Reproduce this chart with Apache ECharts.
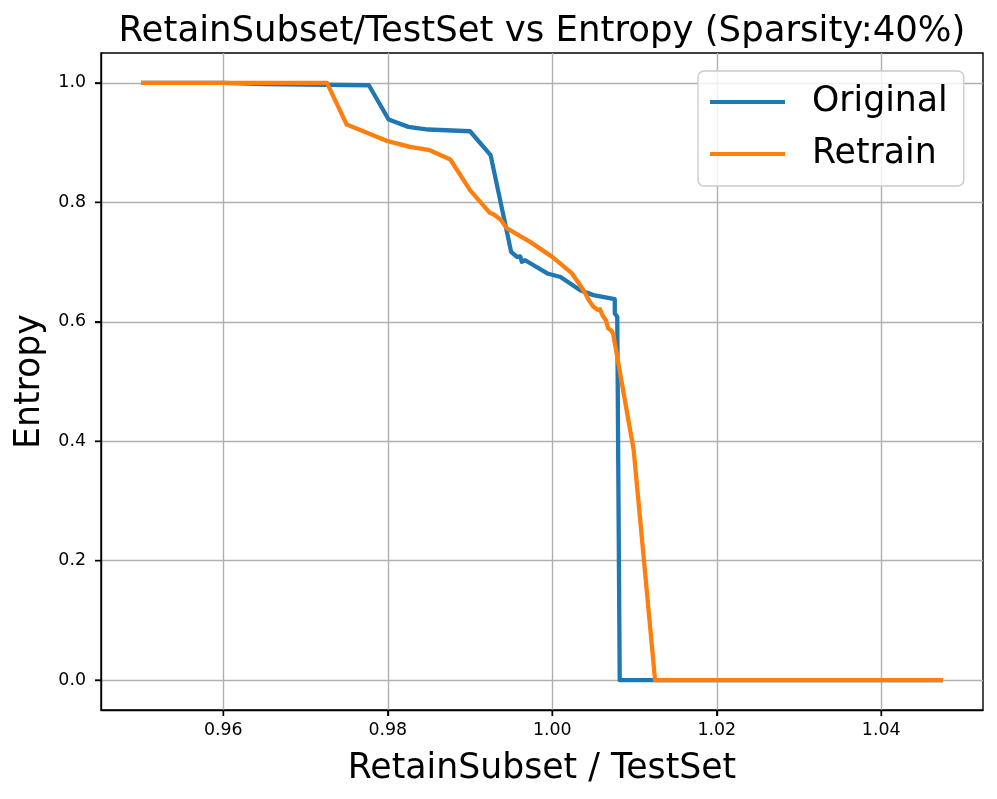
<!DOCTYPE html>
<html>
<head>
<meta charset="utf-8">
<script src="https://cdn.jsdelivr.net/npm/echarts@6/dist/echarts.min.js"></script>
<style>html,body{margin:0;padding:0;background:#fff;}#c{width:997px;height:799px;}</style>
</head>
<body>
<div id="c"></div>
<script>
const titleText = 'RetainSubset/TestSet vs Entropy (Sparsity:40%)';
const xLabel = 'RetainSubset / TestSet';
const yLabel = 'Entropy';
const seriesNames = ['Original', 'Retrain'];
const xTicks = [0.96, 0.98, 1.00, 1.02, 1.04];
const yTicks = [0.0, 0.2, 0.4, 0.6, 0.8, 1.0];

const originalX = [0.95, 0.96, 0.965, 0.9777, 0.9801, 0.9825, 0.9849, 0.990, 0.9925, 0.995, 0.9957, 0.9961, 0.9963, 0.9967, 0.9994, 1.001, 1.0034, 1.005, 1.0076, 1.0076, 1.0079, 1.0082, 1.0475];
const originalY = [1.0, 1.0, 0.998, 0.996, 0.9387, 0.9263, 0.9219, 0.919, 0.879, 0.7171, 0.7087, 0.7095, 0.7004, 0.703, 0.6809, 0.675, 0.6529, 0.6446, 0.6379, 0.6139, 0.6083, 0.0, 0.0];

const retrainX = [0.95, 0.9726, 0.975, 0.980, 0.9827, 0.9851, 0.9876, 0.990, 0.9924, 0.9929, 0.9931, 0.9937, 0.9945, 0.9973, 1.0000, 1.0024, 1.0038, 1.0045, 1.005, 1.0055, 1.0058, 1.0061, 1.0065, 1.0068, 1.0072, 1.0074, 1.0099, 1.0125, 1.0475];
const retrainY = [1.0, 1.0, 0.9302, 0.9024, 0.8929, 0.8873, 0.8717, 0.8204, 0.7824, 0.7795, 0.781, 0.7713, 0.7562, 0.7338, 0.7087, 0.6809, 0.6529, 0.635, 0.625, 0.62, 0.621, 0.611, 0.603, 0.589, 0.585, 0.580, 0.3851, 0.0, 0.0];

const zip = (xs, ys) => xs.map((x, i) => [x, ys[i]]);
const dataMin = 0.95, dataMax = 1.0475;
const pad = (dataMax - dataMin) * 0.05;
const xMin = dataMin - pad, xMax = dataMax + pad;
const yMin = -0.05, yMax = 1.05;

const tickMarks = xTicks.map(v => ['x', v]).concat(yTicks.map(v => ['y', v]));
const tickLen = 6;

const chart = echarts.init(document.getElementById('c'), null, {renderer: 'canvas'});
const font = 'DejaVu Sans';
chart.setOption({
  animation: false,
  backgroundColor: '#ffffff',
  textStyle: {fontFamily: font},
  title: {
    text: titleText,
    left: 537, top: 9, textAlign: 'center',
    textStyle: {fontFamily: font, fontSize: 35.5, fontWeight: 'normal', color: '#000'}
  },
  grid: {left: 101, right: 14, top: 53, bottom: 89, show: true, borderColor: '#000', borderWidth: 1.4, backgroundColor: 'transparent'},
  legend: {
    orient: 'vertical', left: 698, top: 71,
    data: seriesNames,
    icon: 'rect', itemWidth: 75, itemHeight: 4, itemGap: 12,
    padding: [11, 16, 12, 12],
    backgroundColor: 'rgba(255,255,255,0.8)', borderColor: '#cccccc', borderWidth: 1.4, borderRadius: 6,
    textStyle: {fontFamily: font, fontSize: 34.7, color: '#000', padding: [0, 0, 0, 22], lineHeight: 40}
  },
  xAxis: {
    type: 'value', min: xMin, max: xMax, position: 'bottom',
    name: xLabel, nameLocation: 'middle', nameGap: 41,
    nameTextStyle: {fontFamily: font, fontSize: 34.7, color: '#000'},
    axisLine: {show: true, onZero: false, lineStyle: {color: '#000', width: 1.4}},
    axisTick: {show: true, inside: false, length: tickLen, lineStyle: {color: '#000', width: 1.4}, customValues: xTicks},
    axisLabel: {fontFamily: font, fontSize: 17.4, color: '#000', margin: 12, customValues: xTicks, formatter: v => v.toFixed(2)},
    splitLine: {show: true, lineStyle: {color: '#b0b0b0', width: 1.4}}
  },
  yAxis: {
    type: 'value', min: yMin, max: yMax, position: 'left',
    name: yLabel, nameLocation: 'middle', nameGap: 50, nameRotate: 90,
    nameTextStyle: {fontFamily: font, fontSize: 34.7, color: '#000'},
    axisLine: {show: true, onZero: false, lineStyle: {color: '#000', width: 1.4}},
    axisTick: {show: true, inside: false, length: tickLen, lineStyle: {color: '#000', width: 1.4}, customValues: yTicks},
    axisLabel: {fontFamily: font, fontSize: 17.4, color: '#000', margin: 15, customValues: yTicks, formatter: v => v.toFixed(1)},
    splitLine: {show: true, lineStyle: {color: '#b0b0b0', width: 1.4}}
  },
  series: [
    {name: seriesNames[0], type: 'line', data: zip(originalX, originalY), showSymbol: false, symbol: 'none',
     lineStyle: {color: '#1f77b4', width: 4.3, join: 'round'}, itemStyle: {color: '#1f77b4'}, z: 2},
    {name: seriesNames[1], type: 'line', data: zip(retrainX, retrainY), showSymbol: false, symbol: 'none',
     lineStyle: {color: '#ff7f0e', width: 4.3, join: 'round'}, itemStyle: {color: '#ff7f0e'}, z: 3},
    {name: 'ticks', type: 'custom', clip: false, silent: true, z: 4,
     data: tickMarks.map((t, i) => [i]),
     renderItem: function (params, api) {
       const t = tickMarks[api.value(0)];
       let x1, y1, x2, y2;
       if (t[0] === 'x') {
         const p = api.coord([t[1], yMin]);
         x1 = p[0]; y1 = p[1]; x2 = p[0]; y2 = p[1] + tickLen;
       } else {
         const p = api.coord([xMin, t[1]]);
         x1 = p[0] - tickLen; y1 = p[1]; x2 = p[0]; y2 = p[1];
       }
       return {type: 'line', shape: {x1: x1, y1: y1, x2: x2, y2: y2},
               style: {stroke: '#000', lineWidth: 1.4}};
     }}
  ]
});
</script>
</body>
</html>
